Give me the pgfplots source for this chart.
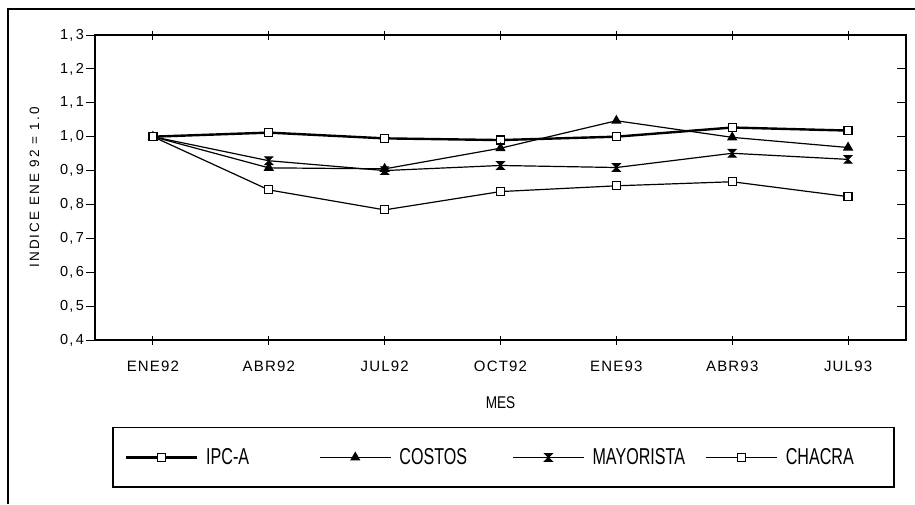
\documentclass[border=0pt]{standalone}
\usepackage{fontspec}
\setmainfont{Liberation Sans}
\newfontfamily\spaced[LetterSpace=8]{Liberation Sans}
\newfontfamily\wider[LetterSpace=16]{Liberation Sans}
\usepackage{graphicx}
\usepackage{pgfplots}
\pgfplotsset{compat=1.18}

% filled hourglass marker (like the old spreadsheet "star")
\pgfdeclareplotmark{hourglass}{%
  \pgfpathmoveto{\pgfqpoint{-\pgfplotmarksize}{\pgfplotmarksize}}%
  \pgfpathlineto{\pgfqpoint{\pgfplotmarksize}{\pgfplotmarksize}}%
  \pgfpathlineto{\pgfqpoint{-\pgfplotmarksize}{-\pgfplotmarksize}}%
  \pgfpathlineto{\pgfqpoint{\pgfplotmarksize}{-\pgfplotmarksize}}%
  \pgfpathclose
  \pgfusepathqfillstroke}

\newcommand{\legtxt}[2][113pt]{\makebox[#1][l]{\scalebox{0.7}[1]{\fontsize{23}{23}\selectfont #2}}}

\begin{document}
\begin{tikzpicture}
  \begin{axis}[
    at={(95pt,-340pt)}, anchor=south west,
    scale only axis,
    width=811pt, height=305pt,
    xmin=-0.5, xmax=6.5,
    ymin=0.4, ymax=1.3,
    axis line style={line width=1.3pt},
    xtick={0,...,6},
    xticklabels={ENE92,ABR92,JUL92,OCT92,ENE93,ABR93,JUL93},
    ytick={0.4,0.5,...,1.3},
    yticklabels={{0,\,4},{0,\,5},{0,\,6},{0,\,7},{0,\,8},{0,\,9},{1,\,0},{1,\,1},{1,\,2},{1,\,3}},
    tick align=center,
    major tick length=9pt,
    tick style={line width=1pt, black},
    y tick style={xshift=-4.5pt},
    xticklabel style={font=\spaced\fontsize{15}{15}\selectfont, yshift=-13pt},
    yticklabel style={font=\spaced\fontsize{14.5}{14.5}\selectfont, xshift=-3pt},
    xlabel={\scalebox{0.8}[1]{\fontsize{17}{17}\selectfont MES}},
    xlabel style={yshift=-18pt},
    ylabel={\wider\fontsize{13.5}{13.5}\selectfont INDICE ENE 92 = 1.0},
    ylabel style={yshift=14pt},
    legend columns=4,
    legend cell align=left,
    legend style={
      at={(0.021,-0.285)}, anchor=north west,
      draw=black, line width=1.5pt,
      inner xsep=12pt, inner ysep=21pt,
      nodes={inner sep=0pt},
      /tikz/every odd column/.append style={column sep=8pt},
    },
    legend image code/.code={%
      \draw[#1, mark repeat=2, mark phase=2]
        plot coordinates {(0pt,0pt) (35.5pt,0pt) (71pt,0pt)};},
  ]
    % IPC-A
    \addplot[black, line width=2.4pt, mark=square*,
      mark options={fill=white, line width=1.2pt, solid}, mark size=4pt]
      coordinates {(0,1.000) (1,1.012) (2,0.995) (3,0.990) (4,1.000) (5,1.027) (6,1.018)};
    \addlegendentry{\legtxt{IPC-A}}
    % COSTOS
    \addplot[black, line width=1.2pt, mark=triangle*,
      mark options={fill=black, solid}, mark size=4.8pt]
      coordinates {(0,1.000) (1,0.908) (2,0.905) (3,0.966) (4,1.047) (5,0.998) (6,0.968)};
    \addlegendentry{\legtxt{COSTOS}}
    % MAYORISTA
    \addplot[black, line width=1.2pt, mark=hourglass,
      mark options={fill=black, line width=1pt, solid}, mark size=3.8pt]
      coordinates {(0,1.000) (1,0.929) (2,0.900) (3,0.915) (4,0.909) (5,0.951) (6,0.933)};
    \addlegendentry{\legtxt{MAYORISTA}}
    % CHACRA
    \addplot[black, line width=1.2pt, mark=square*,
      mark options={fill=white, line width=1.2pt, solid}, mark size=4pt]
      coordinates {(0,1.000) (1,0.843) (2,0.784) (3,0.838) (4,0.855) (5,0.867) (6,0.823)};
    \addlegendentry{\legtxt[96pt]{CHACRA}}
  \end{axis}
  % outer frame (cropped at right and bottom)
  \draw[line width=1.3pt] (8pt,-504pt) -- (8pt,-9pt) -- (915pt,-9pt);
  \pgfresetboundingbox
  \path (0pt,0pt) rectangle (915pt,-504pt);
\end{tikzpicture}
\end{document}
